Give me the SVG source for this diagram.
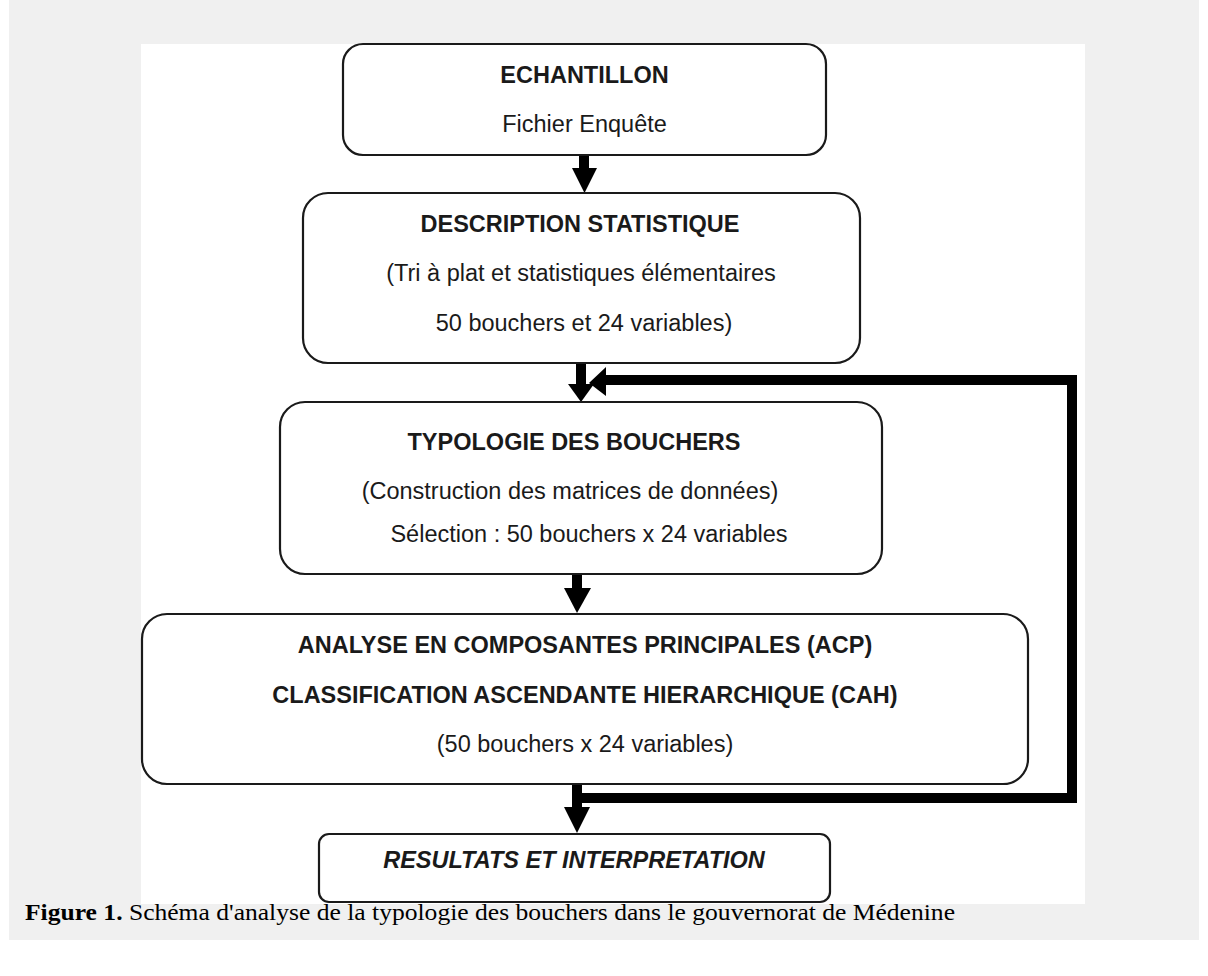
<svg xmlns="http://www.w3.org/2000/svg" width="1208" height="976" viewBox="0 0 1208 976">
<style>
.box{fill:#fff;stroke:#1a1a1a;stroke-width:2.2}
.h{font-family:"Liberation Sans",Arial,sans-serif;font-weight:bold;font-size:23.5px;fill:#1a1a1a;text-anchor:middle}
.t{font-family:"Liberation Sans",Arial,sans-serif;font-size:23.5px;fill:#1a1a1a;text-anchor:middle}
.conn{fill:none;stroke:#000;stroke-width:10}
.head{fill:#000}
.cap{font-family:"Liberation Serif","Times New Roman",serif;font-size:24px;fill:#000}
</style>
<rect x="0" y="0" width="1208" height="976" fill="#fff"/>
<rect x="9" y="0" width="1190" height="940" fill="#f0f0f0"/>
<rect x="141" y="44" width="944" height="860" fill="#fff"/>

<g id="connectors">
  <line class="conn" x1="584" y1="155" x2="584" y2="172"/>
  <polygon class="head" points="572,168 597,168 584.5,193"/>
  <line class="conn" x1="581" y1="363" x2="581" y2="387"/>
  <polygon class="head" points="568,384 594,384 581,402"/>
  <line class="conn" x1="577" y1="574" x2="577" y2="592"/>
  <polygon class="head" points="564,588 591,588 577,613"/>
  <line class="conn" x1="577" y1="784" x2="577" y2="810"/>
  <polygon class="head" points="564,807 590,807 577,833"/>
  <polyline class="conn" points="577,798 1072,798 1072,380 602,380"/>
  <polygon class="head" points="589,383 606,367 606,396"/>
</g>

<g id="n1">
  <rect class="box" x="343" y="44" width="483" height="111" rx="20"/>
  <text class="h" x="584.5" y="83">ECHANTILLON</text>
  <text class="t" x="584.5" y="132">Fichier Enquête</text>
</g>
<g id="n2">
  <rect class="box" x="303" y="193" width="557" height="170" rx="25"/>
  <text class="h" x="580" y="232">DESCRIPTION STATISTIQUE</text>
  <text class="t" x="581" y="281">(Tri à plat et statistiques élémentaires</text>
  <text class="t" x="584" y="331">50 bouchers et 24 variables)</text>
</g>
<g id="n3">
  <rect class="box" x="280" y="402" width="602" height="172" rx="25"/>
  <text class="h" x="574" y="450">TYPOLOGIE DES BOUCHERS</text>
  <text class="t" x="570" y="499">(Construction des matrices de données)</text>
  <text class="t" x="589" y="542">Sélection : 50 bouchers x 24 variables</text>
</g>
<g id="n4">
  <rect class="box" x="142" y="614" width="886" height="170" rx="25"/>
  <text class="h" x="585" y="653">ANALYSE EN COMPOSANTES PRINCIPALES (ACP)</text>
  <text class="h" x="585" y="703">CLASSIFICATION ASCENDANTE HIERARCHIQUE (CAH)</text>
  <text class="t" x="585" y="752">(50 bouchers x 24 variables)</text>
</g>
<g id="n5">
  <rect class="box" x="319" y="834" width="511" height="68" rx="10"/>
  <text class="h" x="574" y="868" font-style="italic">RESULTATS ET INTERPRETATION</text>
</g>

<text class="cap" x="25" y="920" textLength="930" lengthAdjust="spacingAndGlyphs"><tspan font-weight="bold">Figure 1.</tspan> Schéma d'analyse de la typologie des bouchers dans le gouvernorat de Médenine</text>
</svg>
